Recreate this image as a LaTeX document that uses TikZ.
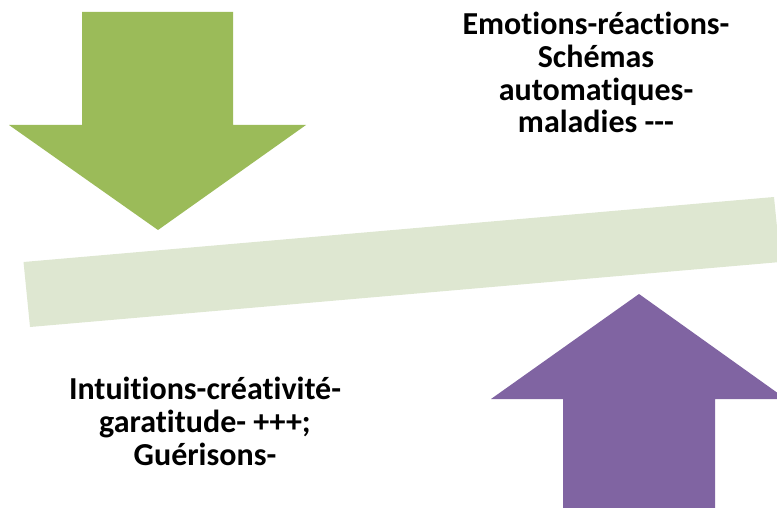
\documentclass[tikz,border=0pt]{standalone}
\usepackage{fontspec}
\setmainfont{Carlito}[Ligatures=NoCommon]
\usepackage{tikz}
\definecolor{arrowgreen}{HTML}{9BBB59}
\definecolor{beamgreen}{HTML}{DEE7D1}
\definecolor{arrowpurple}{HTML}{8064A2}
\tikzset{
  bigarrow/.style = {draw=none},
  downarrow/.style = {bigarrow, fill=arrowgreen},
  uparrow/.style   = {bigarrow, fill=arrowpurple},
  beam/.style      = {draw=none, fill=beamgreen},
  caption/.style   = {align=center, inner sep=0pt,
                      font=\fontsize{32}{32.8}\selectfont\bfseries}
}
\begin{document}
\begin{tikzpicture}[x=1pt, y=-1pt]
  \useasboundingbox (0,0) rectangle (777,508);
  % green arrow, pushing down
  \fill[downarrow] (82,12) -- (233,12) -- (233,125) -- (306,125)
    -- (158,230) -- (9,125) -- (82,125) -- cycle;
  % the tilted beam
  \fill[beam] (23.5,262) -- (774,197) -- (780.5,262) -- (30,327) -- cycle;
  % purple arrow, pushing up
  \fill[uparrow] (563,508) -- (563,399) -- (491,399) -- (639,294)
    -- (786,399) -- (715,399) -- (715,508) -- cycle;
  \node[caption, anchor=base] (negnote) at (596,133)
    {Emotions-réactions-\\Schémas\\automatiques-\\maladies -{}-{}-};
  \node[caption, anchor=base] (posnote) at (205,465)
    {Intuitions-créativité-\\garatitude- +++;\\Guérisons-};
\end{tikzpicture}
\end{document}
